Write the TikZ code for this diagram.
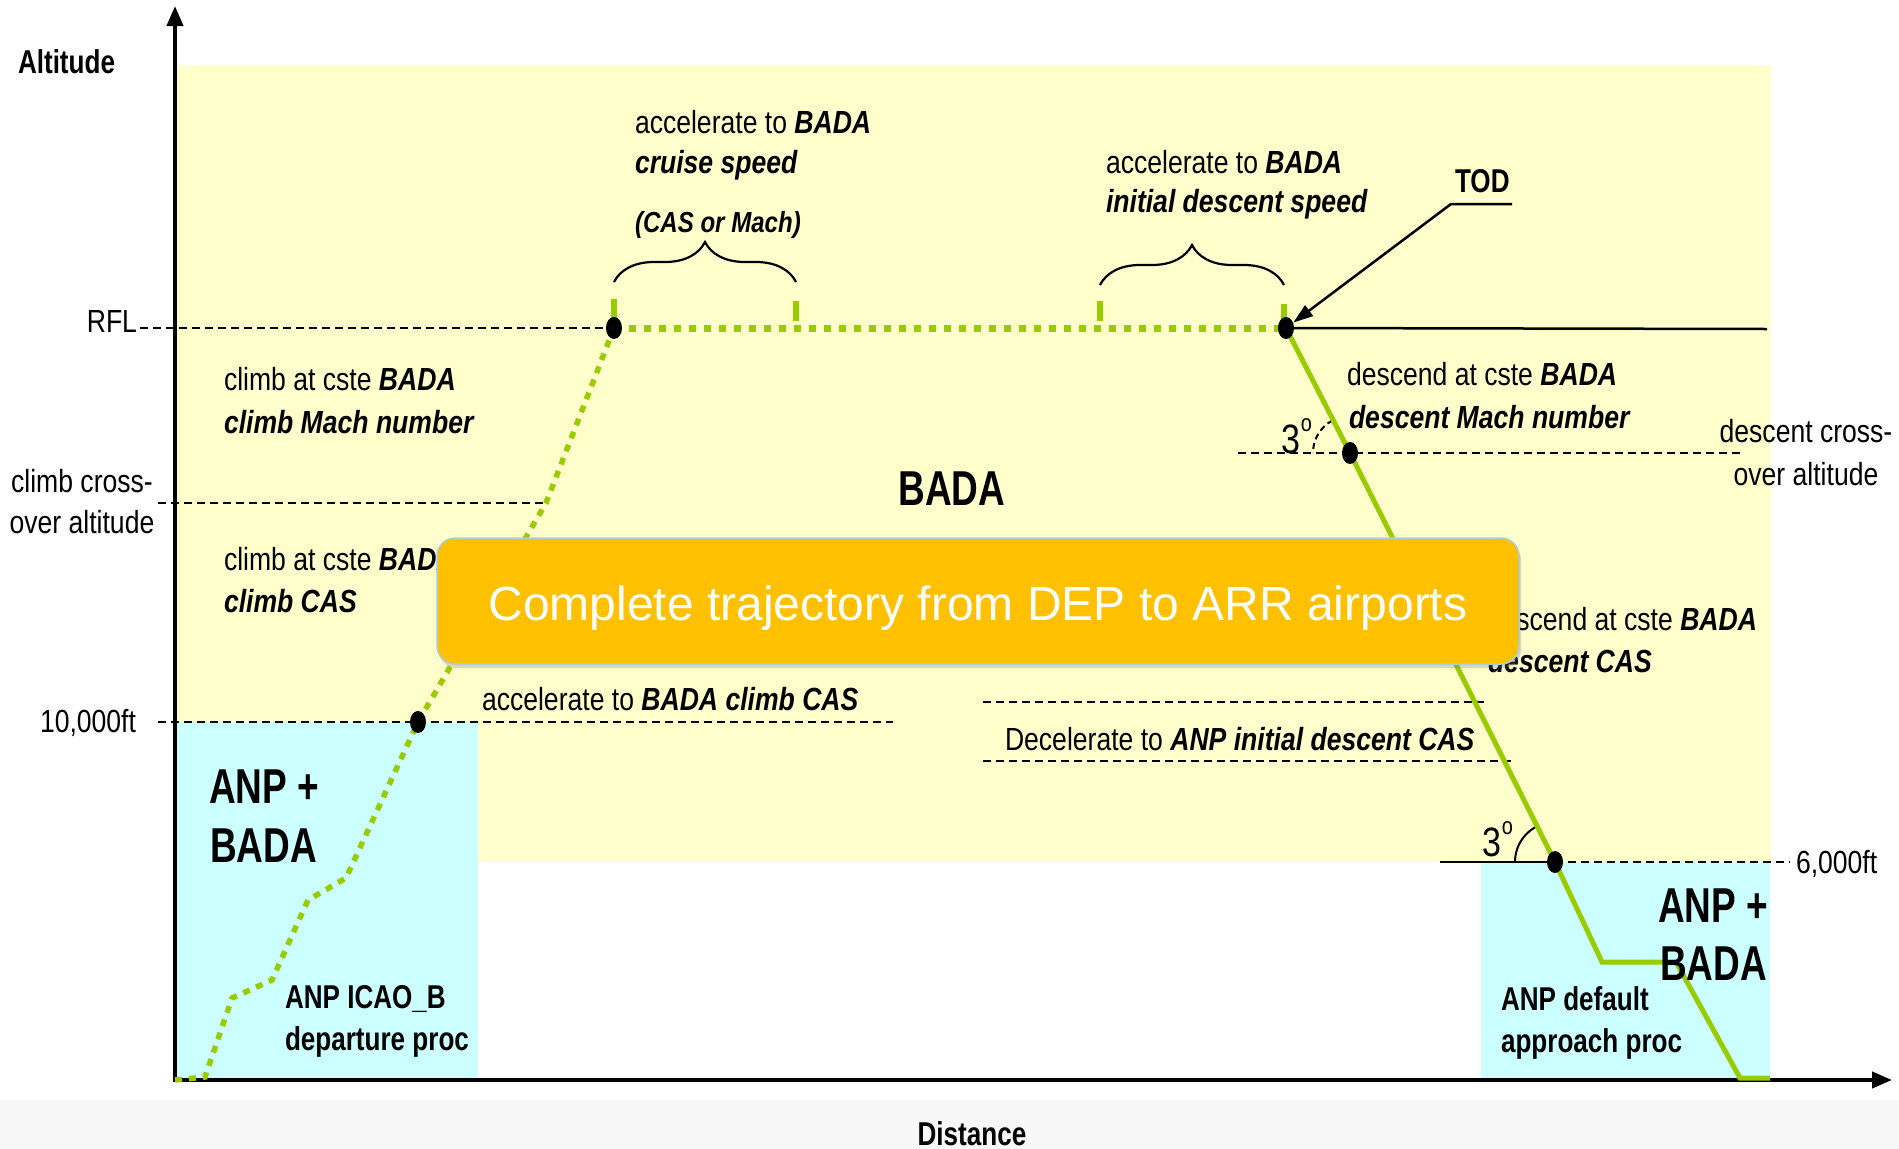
\documentclass[tikz,border=0pt]{standalone}
\usepackage{fontspec}
\setmainfont{Liberation Sans}[FakeStretch=0.83]
\newfontfamily\boldnarrow{Liberation Sans}[FakeStretch=0.79]
\newfontfamily\bignarrow{Liberation Sans}[FakeStretch=0.755]
\newfontfamily\plainsans{Liberation Sans}
\usetikzlibrary{arrows.meta,shapes.geometric,decorations.pathreplacing,shadows}
\definecolor{bgyellow}{HTML}{FFFFCC}
\definecolor{bgcyan}{HTML}{CCFFFF}
\definecolor{pathgreen}{HTML}{99CC00}
\definecolor{boxorange}{HTML}{FFC000}
\definecolor{bandgray}{HTML}{F7F7F7}
\definecolor{boxedge}{HTML}{A9CFD8}
\newcommand\bitext[1]{\textbf{\textit{#1}}}
\newcommand\degmark{\kern1pt\raisebox{22pt}{\fontsize{24}{26}\selectfont o}}
\tikzset{
  lbl/.style={inner sep=0pt, outer sep=0pt, font=\fontsize{32}{36}\selectfont},
  smalllbl/.style={inner sep=0pt, outer sep=0pt, font=\fontsize{29}{32}\selectfont},
  boldlbl/.style={inner sep=0pt, outer sep=0pt, font=\boldnarrow\bfseries\fontsize{33}{36}\selectfont},
  biglbl/.style={inner sep=0pt, outer sep=0pt, font=\bignarrow\bfseries\fontsize{49}{54}\selectfont},
  deglbl/.style={inner sep=0pt, outer sep=0pt, font=\fontsize{41}{44}\selectfont},
  dashln/.style={black, line width=2.5pt, dash pattern=on 8pt off 5pt},
  solidln/.style={black, line width=2.5pt},
  axisln/.style={black, line width=4pt, {Triangle[width=16pt,length=20pt]}-{Triangle[width=16pt,length=20pt]}},
  climbln/.style={pathgreen, line width=5.5pt, dash pattern=on 7pt off 7pt},
  cruiseln/.style={pathgreen, line width=7pt, dash pattern=on 7pt off 8pt},
  descln/.style={pathgreen, line width=5pt},
  tickln/.style={pathgreen, line width=6pt},
  bracestyle/.style={black, line width=2.2pt, decorate, decoration={brace, amplitude=40pt}},
  dotnode/.style={ellipse, fill=black, minimum width=16pt, minimum height=22pt, inner sep=0pt},
  leaderln/.style={black, line width=2.5pt, -{Triangle[width=13pt,length=20pt]}},
  obox/.style={rectangle, rounded corners=18pt, fill=boxorange, draw=boxedge, line width=1.5pt,
    minimum width=1082pt, minimum height=126pt,
    drop shadow={shadow xshift=2pt, shadow yshift=-4pt, opacity=0.3}},
  titletxt/.style={inner sep=0pt, text=white, font=\plainsans\fontsize{48}{54}\selectfont}
}
\begin{document}
\begin{tikzpicture}[x=1pt,y=-1pt]
\useasboundingbox (0,0) rectangle (1899,1149);
% backgrounds
\fill[bandgray] (0,1100) rectangle (1899,1149);
\fill[bgyellow] (175,66) rectangle (1771,862);
\fill[bgcyan] (175,722) rectangle (478,1080);
\fill[bgcyan] (1481,862) rectangle (1770,1080);

% key coordinates
\coordinate (O) at (175,1080);
\coordinate (yTop) at (175,6);
\coordinate (xEnd) at (1892,1080);
\coordinate (pRFL) at (614,328);
\coordinate (pTOD) at (1286,328);
\coordinate (p10k) at (418,722);
\coordinate (pCCO) at (546,503);
\coordinate (pDCO) at (1350,453);
\coordinate (p6k) at (1555,862);

% axes
\draw[axisln] (yTop) -- (O) -- (xEnd);

% reference lines
\coordinate (rflL) at (140,328);
\draw[dashln] (rflL) -- (pRFL);
\coordinate (ccoL) at (158,503);
\draw[dashln] (ccoL) -- (pCCO);
\coordinate (tenL) at (158,722);
\coordinate (tenR) at (893,722);
\draw[dashln] (tenL) -- (tenR);
\coordinate (dcoL) at (1238,453);
\coordinate (dcoR) at (1742,453);
\draw[dashln] (dcoL) -- (dcoR);
\coordinate (decAL) at (983,702);
\coordinate (decAR) at (1484,702);
\draw[dashln] (decAL) -- (decAR);
\coordinate (decBL) at (983,761);
\coordinate (decBR) at (1511,761);
\draw[dashln] (decBL) -- (decBR);
\coordinate (sixR) at (1790,862);
\draw[dashln] (p6k) -- (sixR);
\coordinate (todR) at (1767,329);
\draw[solidln] (pTOD) -- (todR);
\coordinate (sixL) at (1440,862);
\draw[solidln] (sixL) -- (p6k);

% angle arcs
\draw[black, line width=2pt, dash pattern=on 6pt off 4pt] plot[domain=118:180, samples=25] ({1350+37*cos(\x)}, {453-37*sin(\x)});
\draw[black, line width=2pt] plot[domain=117:180, samples=25] ({1555+40*cos(\x)}, {862-40*sin(\x)});

% braces
\coordinate (brAL) at (614,282);
\coordinate (brAR) at (796,282);
\draw[bracestyle] (brAL) -- (brAR);
\coordinate (brBL) at (1100,285);
\coordinate (brBR) at (1284,285);
\draw[bracestyle] (brBL) -- (brBR);

% green ticks
\draw[tickln] (614,299) -- (614,321);
\draw[tickln] (796,301) -- (796,321);
\draw[tickln] (1100,301) -- (1100,321);
\draw[tickln] (1284,304) -- (1284,321);

% trajectory
\draw[climbln] (O) -- (205,1077) -- (232,998) -- (272,980) -- (308,900) -- (346,878) -- (p10k) -- (pCCO) -- (pRFL);
\draw[cruiseln] (pRFL) -- (pTOD);
\draw[descln] (pTOD) -- (pDCO) -- (p6k) -- (1602,962) -- (1676,962) -- (1740,1078) -- (1770,1078);

% dots
\node[dotnode] (dRFL) at (pRFL) {};
\node[dotnode] (dTOD) at (pTOD) {};
\node[dotnode] (d10k) at (p10k) {};
\node[dotnode] (dDCO) at (pDCO) {};
\node[dotnode] (d6k) at (p6k) {};

% TOD
\node[boldlbl, anchor=base west] (todlbl) at (1455,192) {TOD};
\coordinate (todA) at (1512,204);
\coordinate (todB) at (1451,204);
\draw[leaderln] (todA) -- (todB) -- (dTOD);

% axis labels
\node[boldlbl, anchor=base west] (alt) at (18,73) {Altitude};
\node[boldlbl, anchor=base] (dist) at (972,1145) {Distance};
\node[lbl, anchor=base east] (rfl) at (137,332) {RFL};
\node[lbl, anchor=base east] (tenk) at (136,732) {10,000ft};
\node[lbl, anchor=base] (cco1) at (82,492) {climb cross-};
\node[lbl, anchor=base] (cco2) at (82,533) {over altitude};
\node[lbl, anchor=base west] (sixk) at (1796,873) {6,000ft};
\node[lbl, anchor=base] (dco1) at (1806,442) {descent cross-};
\node[lbl, anchor=base] (dco2) at (1806,485) {over altitude};

% phase labels
\node[lbl, anchor=base west] (cm1) at (224,390) {climb at cste \bitext{BADA}};
\node[lbl, anchor=base west] (cm2) at (224,433) {\bitext{climb Mach number}};
\node[lbl, anchor=base west] (cc1) at (224,570) {climb at cste \bitext{BADA}};
\node[lbl, anchor=base west] (cc2) at (224,612) {\bitext{climb CAS}};
\node[lbl, anchor=base west] (ac1) at (635,133) {accelerate to \bitext{BADA}};
\node[lbl, anchor=base west] (ac2) at (635,173) {\bitext{cruise speed}};
\node[smalllbl, anchor=base west] (ac3) at (635,232) {\bitext{(CAS or Mach)}};
\node[lbl, anchor=base west] (ad1) at (1106,173) {accelerate to \bitext{BADA}};
\node[lbl, anchor=base west] (ad2) at (1106,212) {\bitext{initial descent speed}};
\node[lbl, anchor=base west] (dm1) at (1347,385) {descend at cste \bitext{BADA}};
\node[lbl, anchor=base west] (dm2) at (1349,428) {\bitext{descent Mach number}};
\node[lbl, anchor=base east] (dc1) at (1757,630) {descend at cste \bitext{BADA}};
\node[lbl, anchor=base west] (dc2) at (1488,672) {\bitext{descent CAS}};
\node[lbl, anchor=base west] (acc) at (482,710) {accelerate to \bitext{BADA climb CAS}};
\node[lbl, anchor=base west] (dec) at (1005,750) {Decelerate to \bitext{ANP initial descent CAS}};
\node[deglbl, anchor=base west] (deg1) at (1281,453) {3\degmark};
\node[deglbl, anchor=base west] (deg2) at (1482,856) {3\degmark};

% region labels
\node[biglbl, anchor=base] (bada) at (952,505) {BADA};
\node[biglbl, anchor=base west] (anpL1) at (209,803) {ANP +};
\node[biglbl, anchor=base west] (anpL2) at (210,862) {BADA};
\node[biglbl, anchor=base west] (anpR1) at (1658,922) {ANP +};
\node[biglbl, anchor=base west] (anpR2) at (1660,980) {BADA};
\node[boldlbl, anchor=base west] (dep1) at (285,1008) {ANP ICAO\_B};
\node[boldlbl, anchor=base west] (dep2) at (285,1050) {departure proc};
\node[boldlbl, anchor=base west] (app1) at (1501,1010) {ANP default};
\node[boldlbl, anchor=base west] (app2) at (1501,1052) {approach proc};

% title box
\node[obox] (titlebox) at (978,601) {};
\node[titletxt, anchor=base] (title) at (978,620) {Complete trajectory from DEP to ARR airports};
\end{tikzpicture}
\end{document}
